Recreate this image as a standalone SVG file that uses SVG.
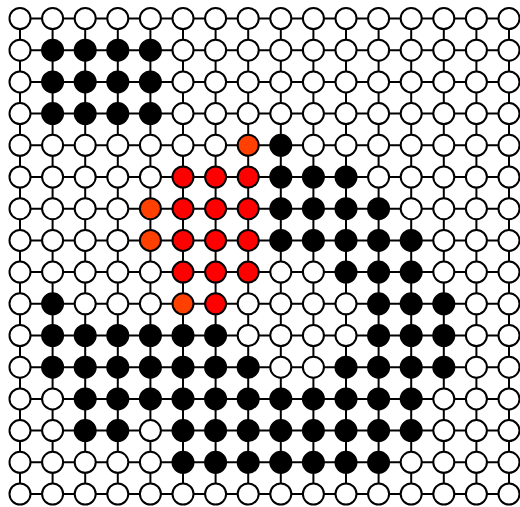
<svg xmlns="http://www.w3.org/2000/svg" width="520" height="507" viewBox="0 0 520 507">
<style>
.e line{stroke:#000;stroke-width:2}
circle{stroke:#000;stroke-width:2}
.w{fill:#fff}.b{fill:#000}.r{fill:#ff0000}.o{fill:#ff4000}
</style>
<rect width="520" height="507" fill="#fff"/>
<g id="connectors" class="e">
<line x1="20" y1="18.5" x2="509" y2="18.5"/>
<line x1="20" y1="50.2" x2="509" y2="50.2"/>
<line x1="20" y1="81.9" x2="509" y2="81.9"/>
<line x1="20" y1="113.6" x2="509" y2="113.6"/>
<line x1="20" y1="145.3" x2="509" y2="145.3"/>
<line x1="20" y1="177" x2="509" y2="177"/>
<line x1="20" y1="208.7" x2="509" y2="208.7"/>
<line x1="20" y1="240.4" x2="509" y2="240.4"/>
<line x1="20" y1="272.1" x2="509" y2="272.1"/>
<line x1="20" y1="303.8" x2="509" y2="303.8"/>
<line x1="20" y1="335.5" x2="509" y2="335.5"/>
<line x1="20" y1="367.2" x2="509" y2="367.2"/>
<line x1="20" y1="398.9" x2="509" y2="398.9"/>
<line x1="20" y1="430.6" x2="509" y2="430.6"/>
<line x1="20" y1="462.3" x2="509" y2="462.3"/>
<line x1="20" y1="494" x2="509" y2="494"/>
<line x1="20" y1="18.5" x2="20" y2="494"/>
<line x1="52.6" y1="18.5" x2="52.6" y2="494"/>
<line x1="85.2" y1="18.5" x2="85.2" y2="494"/>
<line x1="117.8" y1="18.5" x2="117.8" y2="494"/>
<line x1="150.4" y1="18.5" x2="150.4" y2="494"/>
<line x1="183" y1="18.5" x2="183" y2="494"/>
<line x1="215.6" y1="18.5" x2="215.6" y2="494"/>
<line x1="248.2" y1="18.5" x2="248.2" y2="494"/>
<line x1="280.8" y1="18.5" x2="280.8" y2="494"/>
<line x1="313.4" y1="18.5" x2="313.4" y2="494"/>
<line x1="346" y1="18.5" x2="346" y2="494"/>
<line x1="378.6" y1="18.5" x2="378.6" y2="494"/>
<line x1="411.2" y1="18.5" x2="411.2" y2="494"/>
<line x1="443.8" y1="18.5" x2="443.8" y2="494"/>
<line x1="476.4" y1="18.5" x2="476.4" y2="494"/>
<line x1="509" y1="18.5" x2="509" y2="494"/>
</g>
<g id="row0" transform="translate(0,18.5)">
<g id="n0_0"><circle class="w" cx="20" r="10.5"/></g>
<g id="n0_1"><circle class="w" cx="52.6" r="10.5"/></g>
<g id="n0_2"><circle class="w" cx="85.2" r="10.5"/></g>
<g id="n0_3"><circle class="w" cx="117.8" r="10.5"/></g>
<g id="n0_4"><circle class="w" cx="150.4" r="10.5"/></g>
<g id="n0_5"><circle class="w" cx="183" r="10.5"/></g>
<g id="n0_6"><circle class="w" cx="215.6" r="10.5"/></g>
<g id="n0_7"><circle class="w" cx="248.2" r="10.5"/></g>
<g id="n0_8"><circle class="w" cx="280.8" r="10.5"/></g>
<g id="n0_9"><circle class="w" cx="313.4" r="10.5"/></g>
<g id="n0_10"><circle class="w" cx="346" r="10.5"/></g>
<g id="n0_11"><circle class="w" cx="378.6" r="10.5"/></g>
<g id="n0_12"><circle class="w" cx="411.2" r="10.5"/></g>
<g id="n0_13"><circle class="w" cx="443.8" r="10.5"/></g>
<g id="n0_14"><circle class="w" cx="476.4" r="10.5"/></g>
<g id="n0_15"><circle class="w" cx="509" r="10.5"/></g>
</g>
<g id="row1" transform="translate(0,50.2)">
<g id="n1_0"><circle class="w" cx="20" r="10.5"/></g>
<g id="n1_1"><circle class="b" cx="52.6" r="10.5"/></g>
<g id="n1_2"><circle class="b" cx="85.2" r="10.5"/></g>
<g id="n1_3"><circle class="b" cx="117.8" r="10.5"/></g>
<g id="n1_4"><circle class="b" cx="150.4" r="10.5"/></g>
<g id="n1_5"><circle class="w" cx="183" r="10.5"/></g>
<g id="n1_6"><circle class="w" cx="215.6" r="10.5"/></g>
<g id="n1_7"><circle class="w" cx="248.2" r="10.5"/></g>
<g id="n1_8"><circle class="w" cx="280.8" r="10.5"/></g>
<g id="n1_9"><circle class="w" cx="313.4" r="10.5"/></g>
<g id="n1_10"><circle class="w" cx="346" r="10.5"/></g>
<g id="n1_11"><circle class="w" cx="378.6" r="10.5"/></g>
<g id="n1_12"><circle class="w" cx="411.2" r="10.5"/></g>
<g id="n1_13"><circle class="w" cx="443.8" r="10.5"/></g>
<g id="n1_14"><circle class="w" cx="476.4" r="10.5"/></g>
<g id="n1_15"><circle class="w" cx="509" r="10.5"/></g>
</g>
<g id="row2" transform="translate(0,81.9)">
<g id="n2_0"><circle class="w" cx="20" r="10.5"/></g>
<g id="n2_1"><circle class="b" cx="52.6" r="10.5"/></g>
<g id="n2_2"><circle class="b" cx="85.2" r="10.5"/></g>
<g id="n2_3"><circle class="b" cx="117.8" r="10.5"/></g>
<g id="n2_4"><circle class="b" cx="150.4" r="10.5"/></g>
<g id="n2_5"><circle class="w" cx="183" r="10.5"/></g>
<g id="n2_6"><circle class="w" cx="215.6" r="10.5"/></g>
<g id="n2_7"><circle class="w" cx="248.2" r="10.5"/></g>
<g id="n2_8"><circle class="w" cx="280.8" r="10.5"/></g>
<g id="n2_9"><circle class="w" cx="313.4" r="10.5"/></g>
<g id="n2_10"><circle class="w" cx="346" r="10.5"/></g>
<g id="n2_11"><circle class="w" cx="378.6" r="10.5"/></g>
<g id="n2_12"><circle class="w" cx="411.2" r="10.5"/></g>
<g id="n2_13"><circle class="w" cx="443.8" r="10.5"/></g>
<g id="n2_14"><circle class="w" cx="476.4" r="10.5"/></g>
<g id="n2_15"><circle class="w" cx="509" r="10.5"/></g>
</g>
<g id="row3" transform="translate(0,113.6)">
<g id="n3_0"><circle class="w" cx="20" r="10.5"/></g>
<g id="n3_1"><circle class="b" cx="52.6" r="10.5"/></g>
<g id="n3_2"><circle class="b" cx="85.2" r="10.5"/></g>
<g id="n3_3"><circle class="b" cx="117.8" r="10.5"/></g>
<g id="n3_4"><circle class="b" cx="150.4" r="10.5"/></g>
<g id="n3_5"><circle class="w" cx="183" r="10.5"/></g>
<g id="n3_6"><circle class="w" cx="215.6" r="10.5"/></g>
<g id="n3_7"><circle class="w" cx="248.2" r="10.5"/></g>
<g id="n3_8"><circle class="w" cx="280.8" r="10.5"/></g>
<g id="n3_9"><circle class="w" cx="313.4" r="10.5"/></g>
<g id="n3_10"><circle class="w" cx="346" r="10.5"/></g>
<g id="n3_11"><circle class="w" cx="378.6" r="10.5"/></g>
<g id="n3_12"><circle class="w" cx="411.2" r="10.5"/></g>
<g id="n3_13"><circle class="w" cx="443.8" r="10.5"/></g>
<g id="n3_14"><circle class="w" cx="476.4" r="10.5"/></g>
<g id="n3_15"><circle class="w" cx="509" r="10.5"/></g>
</g>
<g id="row4" transform="translate(0,145.3)">
<g id="n4_0"><circle class="w" cx="20" r="10.5"/></g>
<g id="n4_1"><circle class="w" cx="52.6" r="10.5"/></g>
<g id="n4_2"><circle class="w" cx="85.2" r="10.5"/></g>
<g id="n4_3"><circle class="w" cx="117.8" r="10.5"/></g>
<g id="n4_4"><circle class="w" cx="150.4" r="10.5"/></g>
<g id="n4_5"><circle class="w" cx="183" r="10.5"/></g>
<g id="n4_6"><circle class="w" cx="215.6" r="10.5"/></g>
<g id="n4_7"><circle class="o" cx="248.2" r="10.5"/></g>
<g id="n4_8"><circle class="b" cx="280.8" r="10.5"/></g>
<g id="n4_9"><circle class="w" cx="313.4" r="10.5"/></g>
<g id="n4_10"><circle class="w" cx="346" r="10.5"/></g>
<g id="n4_11"><circle class="w" cx="378.6" r="10.5"/></g>
<g id="n4_12"><circle class="w" cx="411.2" r="10.5"/></g>
<g id="n4_13"><circle class="w" cx="443.8" r="10.5"/></g>
<g id="n4_14"><circle class="w" cx="476.4" r="10.5"/></g>
<g id="n4_15"><circle class="w" cx="509" r="10.5"/></g>
</g>
<g id="row5" transform="translate(0,177)">
<g id="n5_0"><circle class="w" cx="20" r="10.5"/></g>
<g id="n5_1"><circle class="w" cx="52.6" r="10.5"/></g>
<g id="n5_2"><circle class="w" cx="85.2" r="10.5"/></g>
<g id="n5_3"><circle class="w" cx="117.8" r="10.5"/></g>
<g id="n5_4"><circle class="w" cx="150.4" r="10.5"/></g>
<g id="n5_5"><circle class="r" cx="183" r="10.5"/></g>
<g id="n5_6"><circle class="r" cx="215.6" r="10.5"/></g>
<g id="n5_7"><circle class="r" cx="248.2" r="10.5"/></g>
<g id="n5_8"><circle class="b" cx="280.8" r="10.5"/></g>
<g id="n5_9"><circle class="b" cx="313.4" r="10.5"/></g>
<g id="n5_10"><circle class="b" cx="346" r="10.5"/></g>
<g id="n5_11"><circle class="w" cx="378.6" r="10.5"/></g>
<g id="n5_12"><circle class="w" cx="411.2" r="10.5"/></g>
<g id="n5_13"><circle class="w" cx="443.8" r="10.5"/></g>
<g id="n5_14"><circle class="w" cx="476.4" r="10.5"/></g>
<g id="n5_15"><circle class="w" cx="509" r="10.5"/></g>
</g>
<g id="row6" transform="translate(0,208.7)">
<g id="n6_0"><circle class="w" cx="20" r="10.5"/></g>
<g id="n6_1"><circle class="w" cx="52.6" r="10.5"/></g>
<g id="n6_2"><circle class="w" cx="85.2" r="10.5"/></g>
<g id="n6_3"><circle class="w" cx="117.8" r="10.5"/></g>
<g id="n6_4"><circle class="o" cx="150.4" r="10.5"/></g>
<g id="n6_5"><circle class="r" cx="183" r="10.5"/></g>
<g id="n6_6"><circle class="r" cx="215.6" r="10.5"/></g>
<g id="n6_7"><circle class="r" cx="248.2" r="10.5"/></g>
<g id="n6_8"><circle class="b" cx="280.8" r="10.5"/></g>
<g id="n6_9"><circle class="b" cx="313.4" r="10.5"/></g>
<g id="n6_10"><circle class="b" cx="346" r="10.5"/></g>
<g id="n6_11"><circle class="b" cx="378.6" r="10.5"/></g>
<g id="n6_12"><circle class="w" cx="411.2" r="10.5"/></g>
<g id="n6_13"><circle class="w" cx="443.8" r="10.5"/></g>
<g id="n6_14"><circle class="w" cx="476.4" r="10.5"/></g>
<g id="n6_15"><circle class="w" cx="509" r="10.5"/></g>
</g>
<g id="row7" transform="translate(0,240.4)">
<g id="n7_0"><circle class="w" cx="20" r="10.5"/></g>
<g id="n7_1"><circle class="w" cx="52.6" r="10.5"/></g>
<g id="n7_2"><circle class="w" cx="85.2" r="10.5"/></g>
<g id="n7_3"><circle class="w" cx="117.8" r="10.5"/></g>
<g id="n7_4"><circle class="o" cx="150.4" r="10.5"/></g>
<g id="n7_5"><circle class="r" cx="183" r="10.5"/></g>
<g id="n7_6"><circle class="r" cx="215.6" r="10.5"/></g>
<g id="n7_7"><circle class="r" cx="248.2" r="10.5"/></g>
<g id="n7_8"><circle class="b" cx="280.8" r="10.5"/></g>
<g id="n7_9"><circle class="b" cx="313.4" r="10.5"/></g>
<g id="n7_10"><circle class="b" cx="346" r="10.5"/></g>
<g id="n7_11"><circle class="b" cx="378.6" r="10.5"/></g>
<g id="n7_12"><circle class="b" cx="411.2" r="10.5"/></g>
<g id="n7_13"><circle class="w" cx="443.8" r="10.5"/></g>
<g id="n7_14"><circle class="w" cx="476.4" r="10.5"/></g>
<g id="n7_15"><circle class="w" cx="509" r="10.5"/></g>
</g>
<g id="row8" transform="translate(0,272.1)">
<g id="n8_0"><circle class="w" cx="20" r="10.5"/></g>
<g id="n8_1"><circle class="w" cx="52.6" r="10.5"/></g>
<g id="n8_2"><circle class="w" cx="85.2" r="10.5"/></g>
<g id="n8_3"><circle class="w" cx="117.8" r="10.5"/></g>
<g id="n8_4"><circle class="w" cx="150.4" r="10.5"/></g>
<g id="n8_5"><circle class="r" cx="183" r="10.5"/></g>
<g id="n8_6"><circle class="r" cx="215.6" r="10.5"/></g>
<g id="n8_7"><circle class="r" cx="248.2" r="10.5"/></g>
<g id="n8_8"><circle class="w" cx="280.8" r="10.5"/></g>
<g id="n8_9"><circle class="w" cx="313.4" r="10.5"/></g>
<g id="n8_10"><circle class="b" cx="346" r="10.5"/></g>
<g id="n8_11"><circle class="b" cx="378.6" r="10.5"/></g>
<g id="n8_12"><circle class="b" cx="411.2" r="10.5"/></g>
<g id="n8_13"><circle class="w" cx="443.8" r="10.5"/></g>
<g id="n8_14"><circle class="w" cx="476.4" r="10.5"/></g>
<g id="n8_15"><circle class="w" cx="509" r="10.5"/></g>
</g>
<g id="row9" transform="translate(0,303.8)">
<g id="n9_0"><circle class="w" cx="20" r="10.5"/></g>
<g id="n9_1"><circle class="b" cx="52.6" r="10.5"/></g>
<g id="n9_2"><circle class="w" cx="85.2" r="10.5"/></g>
<g id="n9_3"><circle class="w" cx="117.8" r="10.5"/></g>
<g id="n9_4"><circle class="w" cx="150.4" r="10.5"/></g>
<g id="n9_5"><circle class="o" cx="183" r="10.5"/></g>
<g id="n9_6"><circle class="r" cx="215.6" r="10.5"/></g>
<g id="n9_7"><circle class="w" cx="248.2" r="10.5"/></g>
<g id="n9_8"><circle class="w" cx="280.8" r="10.5"/></g>
<g id="n9_9"><circle class="w" cx="313.4" r="10.5"/></g>
<g id="n9_10"><circle class="w" cx="346" r="10.5"/></g>
<g id="n9_11"><circle class="b" cx="378.6" r="10.5"/></g>
<g id="n9_12"><circle class="b" cx="411.2" r="10.5"/></g>
<g id="n9_13"><circle class="b" cx="443.8" r="10.5"/></g>
<g id="n9_14"><circle class="w" cx="476.4" r="10.5"/></g>
<g id="n9_15"><circle class="w" cx="509" r="10.5"/></g>
</g>
<g id="row10" transform="translate(0,335.5)">
<g id="n10_0"><circle class="w" cx="20" r="10.5"/></g>
<g id="n10_1"><circle class="b" cx="52.6" r="10.5"/></g>
<g id="n10_2"><circle class="b" cx="85.2" r="10.5"/></g>
<g id="n10_3"><circle class="b" cx="117.8" r="10.5"/></g>
<g id="n10_4"><circle class="b" cx="150.4" r="10.5"/></g>
<g id="n10_5"><circle class="b" cx="183" r="10.5"/></g>
<g id="n10_6"><circle class="b" cx="215.6" r="10.5"/></g>
<g id="n10_7"><circle class="w" cx="248.2" r="10.5"/></g>
<g id="n10_8"><circle class="w" cx="280.8" r="10.5"/></g>
<g id="n10_9"><circle class="w" cx="313.4" r="10.5"/></g>
<g id="n10_10"><circle class="w" cx="346" r="10.5"/></g>
<g id="n10_11"><circle class="b" cx="378.6" r="10.5"/></g>
<g id="n10_12"><circle class="b" cx="411.2" r="10.5"/></g>
<g id="n10_13"><circle class="b" cx="443.8" r="10.5"/></g>
<g id="n10_14"><circle class="w" cx="476.4" r="10.5"/></g>
<g id="n10_15"><circle class="w" cx="509" r="10.5"/></g>
</g>
<g id="row11" transform="translate(0,367.2)">
<g id="n11_0"><circle class="w" cx="20" r="10.5"/></g>
<g id="n11_1"><circle class="b" cx="52.6" r="10.5"/></g>
<g id="n11_2"><circle class="b" cx="85.2" r="10.5"/></g>
<g id="n11_3"><circle class="b" cx="117.8" r="10.5"/></g>
<g id="n11_4"><circle class="b" cx="150.4" r="10.5"/></g>
<g id="n11_5"><circle class="b" cx="183" r="10.5"/></g>
<g id="n11_6"><circle class="b" cx="215.6" r="10.5"/></g>
<g id="n11_7"><circle class="b" cx="248.2" r="10.5"/></g>
<g id="n11_8"><circle class="w" cx="280.8" r="10.5"/></g>
<g id="n11_9"><circle class="w" cx="313.4" r="10.5"/></g>
<g id="n11_10"><circle class="b" cx="346" r="10.5"/></g>
<g id="n11_11"><circle class="b" cx="378.6" r="10.5"/></g>
<g id="n11_12"><circle class="b" cx="411.2" r="10.5"/></g>
<g id="n11_13"><circle class="b" cx="443.8" r="10.5"/></g>
<g id="n11_14"><circle class="w" cx="476.4" r="10.5"/></g>
<g id="n11_15"><circle class="w" cx="509" r="10.5"/></g>
</g>
<g id="row12" transform="translate(0,398.9)">
<g id="n12_0"><circle class="w" cx="20" r="10.5"/></g>
<g id="n12_1"><circle class="w" cx="52.6" r="10.5"/></g>
<g id="n12_2"><circle class="b" cx="85.2" r="10.5"/></g>
<g id="n12_3"><circle class="b" cx="117.8" r="10.5"/></g>
<g id="n12_4"><circle class="b" cx="150.4" r="10.5"/></g>
<g id="n12_5"><circle class="b" cx="183" r="10.5"/></g>
<g id="n12_6"><circle class="b" cx="215.6" r="10.5"/></g>
<g id="n12_7"><circle class="b" cx="248.2" r="10.5"/></g>
<g id="n12_8"><circle class="b" cx="280.8" r="10.5"/></g>
<g id="n12_9"><circle class="b" cx="313.4" r="10.5"/></g>
<g id="n12_10"><circle class="b" cx="346" r="10.5"/></g>
<g id="n12_11"><circle class="b" cx="378.6" r="10.5"/></g>
<g id="n12_12"><circle class="b" cx="411.2" r="10.5"/></g>
<g id="n12_13"><circle class="w" cx="443.8" r="10.5"/></g>
<g id="n12_14"><circle class="w" cx="476.4" r="10.5"/></g>
<g id="n12_15"><circle class="w" cx="509" r="10.5"/></g>
</g>
<g id="row13" transform="translate(0,430.6)">
<g id="n13_0"><circle class="w" cx="20" r="10.5"/></g>
<g id="n13_1"><circle class="w" cx="52.6" r="10.5"/></g>
<g id="n13_2"><circle class="b" cx="85.2" r="10.5"/></g>
<g id="n13_3"><circle class="b" cx="117.8" r="10.5"/></g>
<g id="n13_4"><circle class="w" cx="150.4" r="10.5"/></g>
<g id="n13_5"><circle class="b" cx="183" r="10.5"/></g>
<g id="n13_6"><circle class="b" cx="215.6" r="10.5"/></g>
<g id="n13_7"><circle class="b" cx="248.2" r="10.5"/></g>
<g id="n13_8"><circle class="b" cx="280.8" r="10.5"/></g>
<g id="n13_9"><circle class="b" cx="313.4" r="10.5"/></g>
<g id="n13_10"><circle class="b" cx="346" r="10.5"/></g>
<g id="n13_11"><circle class="b" cx="378.6" r="10.5"/></g>
<g id="n13_12"><circle class="b" cx="411.2" r="10.5"/></g>
<g id="n13_13"><circle class="w" cx="443.8" r="10.5"/></g>
<g id="n13_14"><circle class="w" cx="476.4" r="10.5"/></g>
<g id="n13_15"><circle class="w" cx="509" r="10.5"/></g>
</g>
<g id="row14" transform="translate(0,462.3)">
<g id="n14_0"><circle class="w" cx="20" r="10.5"/></g>
<g id="n14_1"><circle class="w" cx="52.6" r="10.5"/></g>
<g id="n14_2"><circle class="w" cx="85.2" r="10.5"/></g>
<g id="n14_3"><circle class="w" cx="117.8" r="10.5"/></g>
<g id="n14_4"><circle class="w" cx="150.4" r="10.5"/></g>
<g id="n14_5"><circle class="b" cx="183" r="10.5"/></g>
<g id="n14_6"><circle class="b" cx="215.6" r="10.5"/></g>
<g id="n14_7"><circle class="b" cx="248.2" r="10.5"/></g>
<g id="n14_8"><circle class="b" cx="280.8" r="10.5"/></g>
<g id="n14_9"><circle class="b" cx="313.4" r="10.5"/></g>
<g id="n14_10"><circle class="b" cx="346" r="10.5"/></g>
<g id="n14_11"><circle class="b" cx="378.6" r="10.5"/></g>
<g id="n14_12"><circle class="w" cx="411.2" r="10.5"/></g>
<g id="n14_13"><circle class="w" cx="443.8" r="10.5"/></g>
<g id="n14_14"><circle class="w" cx="476.4" r="10.5"/></g>
<g id="n14_15"><circle class="w" cx="509" r="10.5"/></g>
</g>
<g id="row15" transform="translate(0,494)">
<g id="n15_0"><circle class="w" cx="20" r="10.5"/></g>
<g id="n15_1"><circle class="w" cx="52.6" r="10.5"/></g>
<g id="n15_2"><circle class="w" cx="85.2" r="10.5"/></g>
<g id="n15_3"><circle class="w" cx="117.8" r="10.5"/></g>
<g id="n15_4"><circle class="w" cx="150.4" r="10.5"/></g>
<g id="n15_5"><circle class="w" cx="183" r="10.5"/></g>
<g id="n15_6"><circle class="w" cx="215.6" r="10.5"/></g>
<g id="n15_7"><circle class="w" cx="248.2" r="10.5"/></g>
<g id="n15_8"><circle class="w" cx="280.8" r="10.5"/></g>
<g id="n15_9"><circle class="w" cx="313.4" r="10.5"/></g>
<g id="n15_10"><circle class="w" cx="346" r="10.5"/></g>
<g id="n15_11"><circle class="w" cx="378.6" r="10.5"/></g>
<g id="n15_12"><circle class="w" cx="411.2" r="10.5"/></g>
<g id="n15_13"><circle class="w" cx="443.8" r="10.5"/></g>
<g id="n15_14"><circle class="w" cx="476.4" r="10.5"/></g>
<g id="n15_15"><circle class="w" cx="509" r="10.5"/></g>
</g>
</svg>
